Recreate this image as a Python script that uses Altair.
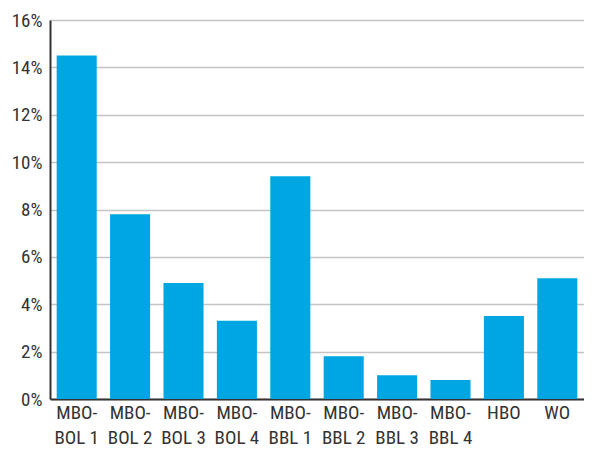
import altair as alt
import pandas as pd

categories = ["MBO-\nBOL 1", "MBO-\nBOL 2", "MBO-\nBOL 3", "MBO-\nBOL 4",
              "MBO-\nBBL 1", "MBO-\nBBL 2", "MBO-\nBBL 3", "MBO-\nBBL 4",
              "HBO", "WO"]
values = [14.5, 7.8, 4.9, 3.3, 9.4, 1.8, 1.0, 0.8, 3.5, 5.1]
y_ticks = [0, 2, 4, 6, 8, 10, 12, 14, 16]

df = pd.DataFrame({"cat": categories, "val": [v / 100 for v in values]})

FONT = "Roboto Condensed, Roboto, sans-serif"

chart = alt.Chart(df).mark_bar(color="#00A6E2").encode(
    x=alt.X("cat:N", sort=None, title=None,
            scale=alt.Scale(paddingInner=0.25, paddingOuter=0.125),
            axis=alt.Axis(labelAngle=0, labelExpr="split(datum.label, '\\n')",
                          labelFontSize=19, labelFont=FONT, labelColor="#333333",
                          labelLineHeight=25, labelPadding=4, ticks=False,
                          domainColor="#333333", domainWidth=2, labelBaseline="top")),
    y=alt.Y("val:Q", title=None,
            scale=alt.Scale(domain=[0, 0.16], nice=False),
            axis=alt.Axis(values=[t / 100 for t in y_ticks], format=".0%",
                          labelFontSize=19, labelFont=FONT, labelColor="#333333",
                          labelPadding=8, ticks=False, domainColor="#333333",
                          domainWidth=2, gridColor="#c4c4c4", gridWidth=1.5)),
).properties(
    width=534, height=379,
    autosize=alt.AutoSizeParams(type="none"),
    padding={"left": 42, "top": 12, "right": 0, "bottom": 50},
).configure_view(stroke=None)

chart.save("out.html", embed_options={"renderer": "svg", "actions": False})
